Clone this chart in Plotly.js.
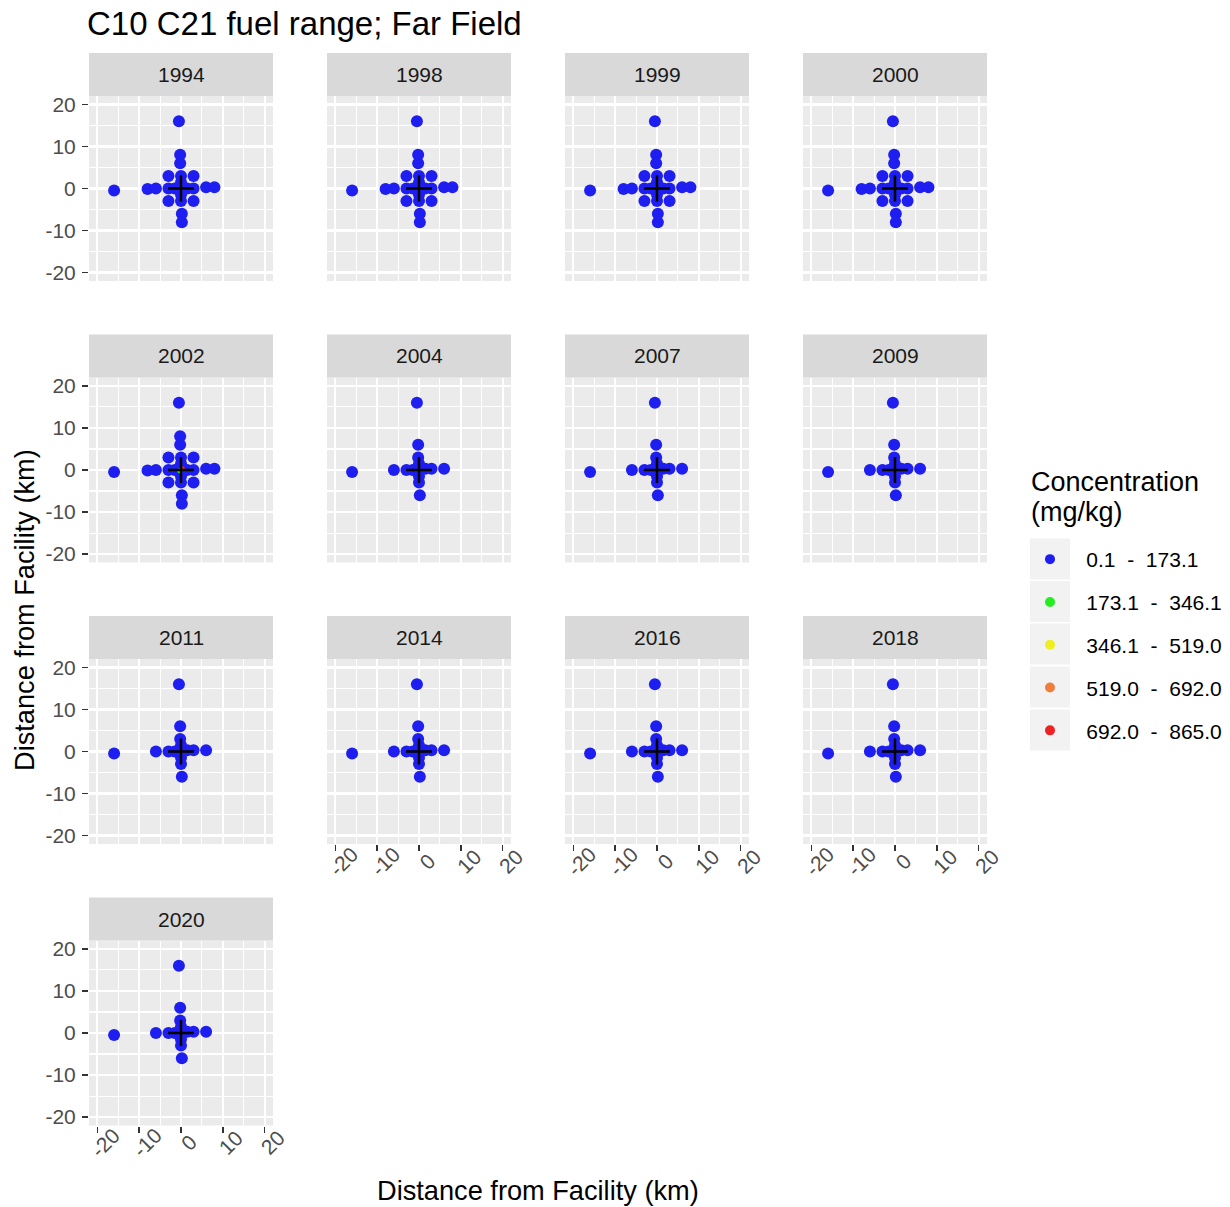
<!DOCTYPE html>
<html>
<head>
<meta charset="utf-8">
<script src="https://cdn.plot.ly/plotly-3.0.1.min.js"></script>
<style>html,body{margin:0;padding:0;background:#fff;}</style>
</head>
<body>
<div id="chart" style="width:1230px;height:1207px;"></div>
<script>
// ---- data ----
const years = ['1994','1998','1999','2000','2002','2004','2007','2009','2011','2014','2016','2018','2020'];
const stationSetByYear = ['full','full','full','full','full','reduced','reduced','reduced','reduced','reduced','reduced','reduced','reduced'];
// station positions (km from facility)
const fullX = [-0.5, -16, -8, -6, 6, 8, -0.2, -0.2, 0.2, 0.2, -3, 3, -3, 3, 0, 0, 0, 0, -3, -1.5, 1.5, 3];
const fullY = [16, -0.5, -0.1, 0, 0.3, 0.3, 8, 6, -6, -8, 3, 3, -3, -3, 3, 1.5, -1.5, -3, 0, 0, 0, 0];
const reducedX = [-0.5, -16, -6, -3, -1.5, 1.5, 3, 6, -0.2, -0.2, 0, 0, 0, 0.2, 0];
const reducedY = [16, -0.5, 0, 0, 0, 0.3, 0.3, 0.3, 6, 3, 1.5, -1.5, -3, -6, 0];
// higher-concentration samples at the facility in 2002
const hotYear = '2002';
const greenX = [-0.3];
const greenY = [-0.2];
const redX = [0.4];
const redY = [0.4];
// facility location
const facilityX = [0];
const facilityY = [0];
// legend classes
const classLabels = ['0.1\u00a0\u00a0-\u00a0\u00a0173.1','173.1\u00a0\u00a0-\u00a0\u00a0346.1','346.1\u00a0\u00a0-\u00a0\u00a0519.0','519.0\u00a0\u00a0-\u00a0\u00a0692.0','692.0\u00a0\u00a0-\u00a0\u00a0865.0'];
const classColors = ['#1e1ef0','#22ee22','#eeee22','#f07f3f','#ee2222'];
const legendTitleLines = ['Concentration', '(mg/kg)'];
const tickVals = [-20, -10, 0, 10, 20];
const tickText = ['-20', '-10', '0', '10', '20'];

// ---- layout geometry ----
const W = 1230, H = 1207;
const colLeft = [89, 327, 565, 803];
const panelW = 184;
const rowTop = [96, 377.5, 659, 940.5];
const panelH = 185;
const stripH = 43;
const FONT = 'Liberation Sans, Arial, sans-serif';

const traces = [];
const layout = {
  width: W, height: H,
  margin: {l: 0, r: 0, t: 0, b: 0},
  paper_bgcolor: '#ffffff',
  plot_bgcolor: '#ebebeb',
  font: {family: FONT, color: '#000000'},
  title: {text: 'C10 C21 fuel range; Far Field', x: 87/W, xanchor: 'left', xref: 'paper', y: 1 - 23/H, yanchor: 'middle', font: {size: 33, color: '#000000', family: FONT}},
  showlegend: true,
  legend: {
    x: 1030/W, xanchor: 'left', y: 1 - 539/H, yanchor: 'top',
    bgcolor: 'rgba(0,0,0,0)',
    font: {size: 21, color: '#000000'},
    tracegroupgap: 12.5,
    traceorder: 'grouped',
    itemwidth: 30
  },
  shapes: [],
  annotations: []
};

years.forEach((yr, i) => {
  const r = Math.floor(i / 4), c = i % 4;
  const id = i === 0 ? '' : String(i + 1);
  const xa = 'x' + id, ya = 'y' + id;
  const x0 = colLeft[c], x1 = colLeft[c] + panelW;
  const y0 = rowTop[r], y1 = rowTop[r] + panelH;
  const showX = (r === 3) || (r === 2 && c > 0);
  const showY = c === 0;
  layout['xaxis' + id] = {
    domain: [x0 / W, x1 / W], anchor: ya, range: [-22, 22],
    tickvals: tickVals, ticktext: tickText, showticklabels: false,
    ticks: showX ? 'outside' : '', ticklen: 6, tickwidth: 1.5, tickcolor: '#333333',
    showgrid: true, gridcolor: '#ffffff', gridwidth: 2.2, zeroline: false, showline: false,
    minor: {dtick: 5, tick0: 0, showgrid: true, gridcolor: '#ffffff', gridwidth: 1.1, ticks: ''},
    fixedrange: true
  };
  layout['yaxis' + id] = {
    domain: [1 - y1 / H, 1 - y0 / H], anchor: xa, range: [-22, 22],
    tickvals: tickVals, ticktext: tickText, showticklabels: showY,
    ticks: showY ? 'outside' : '', ticklen: 6, tickwidth: 1.5, tickcolor: '#333333',
    ticklabelstandoff: 2,
    tickfont: {size: 21, color: '#4d4d4d'},
    showgrid: true, gridcolor: '#ffffff', gridwidth: 2.2, zeroline: false, showline: false,
    minor: {dtick: 5, tick0: 0, showgrid: true, gridcolor: '#ffffff', gridwidth: 1.1, ticks: ''},
    fixedrange: true
  };
  // rotated x tick labels (ggplot-style, angle 45 counter-clockwise, centred on tick)
  if (showX) {
    tickVals.forEach((tv, k) => {
      layout.annotations.push({text: tickText[k], xref: xa, yref: 'paper', x: tv, y: 1 - (y1 + 17) / H, xanchor: 'center', yanchor: 'middle', xshift: 8, textangle: -45, showarrow: false, font: {size: 21, color: '#4d4d4d'}});
    });
  }
  // strip
  layout.shapes.push({type: 'rect', xref: 'paper', yref: 'paper', x0: x0 / W, x1: x1 / W, y0: 1 - y0 / H, y1: 1 - (y0 - stripH) / H, fillcolor: '#d9d9d9', line: {width: 0}, layer: 'below'});
  layout.annotations.push({text: yr, xref: 'paper', yref: 'paper', x: (x0 + x1) / 2 / W, y: 1 - (y0 - stripH / 2) / H, xanchor: 'center', yanchor: 'middle', showarrow: false, font: {size: 21, color: '#1a1a1a'}});

  const sx = stationSetByYear[i] === 'full' ? fullX : reducedX;
  const sy = stationSetByYear[i] === 'full' ? fullY : reducedY;
  traces.push({type: 'scatter', mode: 'markers', x: sx, y: sy, xaxis: xa, yaxis: ya, legendgroup: 'c0', showlegend: false, marker: {color: classColors[0], size: 12}, hoverinfo: 'skip'});
  if (yr === hotYear) {
    traces.push({type: 'scatter', mode: 'markers', x: greenX, y: greenY, xaxis: xa, yaxis: ya, legendgroup: 'c1', showlegend: false, marker: {color: classColors[1], size: 5}, hoverinfo: 'skip'});
    traces.push({type: 'scatter', mode: 'markers', x: redX, y: redY, xaxis: xa, yaxis: ya, legendgroup: 'c4', showlegend: false, marker: {color: classColors[4], size: 4}, hoverinfo: 'skip'});
  }
  traces.push({type: 'scatter', mode: 'markers', x: facilityX, y: facilityY, xaxis: xa, yaxis: ya, showlegend: false, marker: {symbol: 'cross-thin', size: 18.5, color: '#000000', line: {color: '#000000', width: 2.5}}, hoverinfo: 'skip'});
});

// legend entries
classLabels.forEach((lab, k) => {
  traces.push({type: 'scatter', mode: 'markers', x: [null], y: [null], xaxis: 'x', yaxis: 'y', name: '\u2002\u00a0' + lab, legendgroup: 'c' + k, showlegend: true, marker: {color: classColors[k], size: 10}});
});

// legend title
layout.annotations.push({text: legendTitleLines[0], xref: 'paper', yref: 'paper', x: 1029 / W, y: 1 - 482 / H, xanchor: 'left', yanchor: 'middle', showarrow: false, font: {size: 27, color: '#000000'}});
layout.annotations.push({text: legendTitleLines[1], xref: 'paper', yref: 'paper', x: 1029 / W, y: 1 - 512 / H, xanchor: 'left', yanchor: 'middle', showarrow: false, font: {size: 27, color: '#000000'}});

// legend key backgrounds
const keyCentersY = [559, 601.5, 644, 687, 730];
keyCentersY.forEach(cy => {
  layout.shapes.push({type: 'rect', xref: 'paper', yref: 'paper', x0: 1030 / W, x1: 1070 / W, y0: 1 - (cy + 20.5) / H, y1: 1 - (cy - 20.5) / H, fillcolor: '#f2f2f2', line: {width: 0}, layer: 'below'});
});

// axis titles
layout.annotations.push({text: 'Distance from Facility (km)', xref: 'paper', yref: 'paper', x: 538 / W, y: 1 - 1190 / H, xanchor: 'center', yanchor: 'middle', showarrow: false, font: {size: 27.2, color: '#000000'}});
layout.annotations.push({text: 'Distance from Facility (km)', xref: 'paper', yref: 'paper', x: 24 / W, y: 1 - 610 / H, xanchor: 'center', yanchor: 'middle', textangle: -90, showarrow: false, font: {size: 27.2, color: '#000000'}});

Plotly.newPlot('chart', traces, layout, {displayModeBar: false, staticPlot: true});
</script>
</body>
</html>
